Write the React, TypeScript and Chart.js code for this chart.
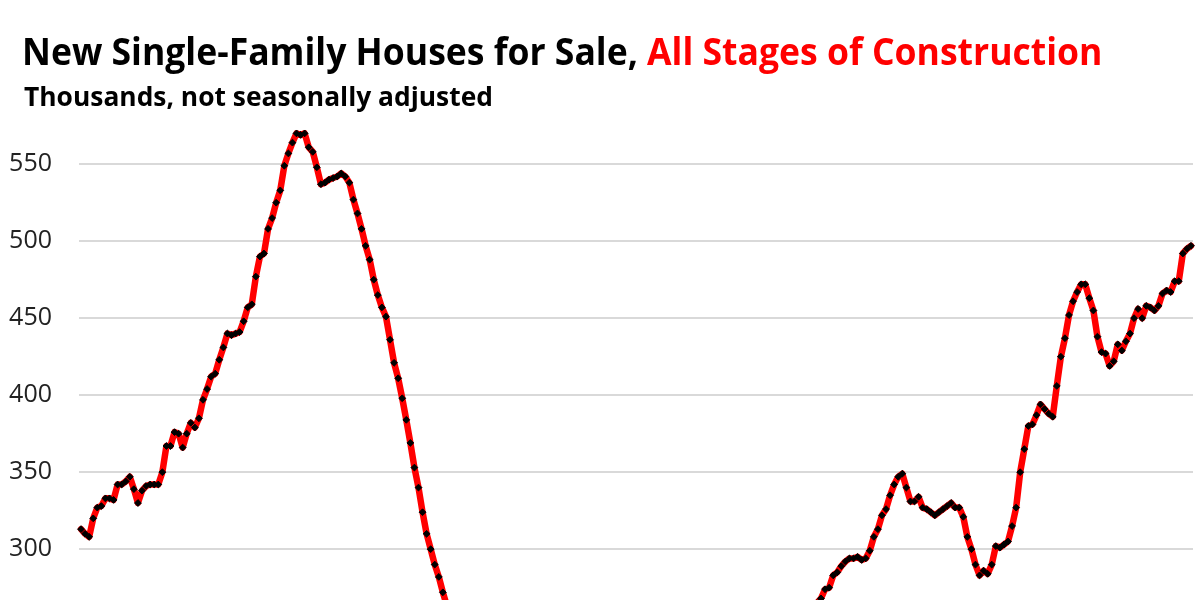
import React, { useEffect, useLayoutEffect, useRef } from 'react';
import { Chart, registerables } from 'chart.js';

Chart.register(...registerables);

// New single-family houses for sale (thousands, NSA), monthly from Jan 2002
const years = [2002, 2003, 2004, 2005, 2006, 2007, 2008, 2009, 2010, 2011, 2012, 2013, 2014, 2015, 2016, 2017, 2018, 2019, 2020, 2021, 2022, 2023, 2024];
const months = ['01', '02', '03', '04', '05', '06', '07', '08', '09', '10', '11', '12'];

const forSaleBoom = [
  313, 310, 308, 320, 327, 328, 333, 333, 332, 342,
  342, 344, 347, 339, 330, 338, 341, 342, 342, 342,
  350, 367, 367, 376, 375, 366, 375, 382, 379, 385,
  397, 404, 412, 414, 423, 431, 440, 439, 440, 441,
  448, 457, 459, 477, 490, 492, 508, 515, 525, 533,
  549, 557, 564, 570, 569, 570, 561, 558, 548, 537,
  538, 540, 541, 542, 544, 542, 538, 527, 518, 508,
  497, 488, 475, 465, 457, 451, 436, 421, 411, 398,
  384, 369, 353, 340, 324, 310, 300, 290, 282, 272,
];

const forSaleTrough = [
  263, 256, 249, 243, 237, 232,
  229, 228, 226, 221, 216, 212, 209, 205, 201, 197, 192, 188,
  185, 184, 182, 177, 172, 168, 165, 162, 158, 155, 151, 149,
  148, 148, 146, 144, 143, 142, 143, 145, 146, 147, 150, 152,
  155, 158, 160, 163, 166, 170, 174, 177, 180, 183, 185, 186,
  188, 191, 194, 198, 201, 204, 207, 210, 212, 213, 214, 214,
  216, 219, 222, 225, 228, 231, 232, 234, 234, 235, 236, 236,
  238, 241, 244, 247, 250, 252, 253, 255, 256, 257, 258, 259,
  262, 265,
];

const forSaleRecovery = [
  268, 274, 275, 283, 285, 289, 292, 294, 294, 295,
  293, 294, 299, 308, 313, 322, 326, 335, 342, 347,
  349, 340, 331, 331, 334, 327, 326, 324, 322, 324,
  326, 328, 330, 327, 327, 321, 308, 300, 290, 283,
  286, 284, 290, 302, 301, 303, 305, 315, 327, 350,
  365, 380, 381, 387, 394, 391, 388, 386, 406, 425,
  437, 452, 461, 467, 472, 472, 463, 455, 438, 428,
  427, 419, 422, 433, 429, 435, 440, 450, 456, 450,
  458, 457, 455, 458, 466, 468, 467, 474, 474, 492,
  495, 497,
];

const yTicks = [300, 350, 400, 450, 500, 550];

const titleBlack = 'New Single-Family Houses for Sale, ';
const titleRed = 'All Stages of Construction';
const subtitle = 'Thousands, not seasonally adjusted';

const values = [...forSaleBoom, ...forSaleTrough, ...forSaleRecovery];
const allMonths: string[] = [];
years.forEach((y) => months.forEach((m) => allMonths.push(`${y}-${m}`)));
const labels = allMonths.slice(0, values.length);

function useFitWidth(ref: React.RefObject<HTMLDivElement | null>, target: number) {
  useLayoutEffect(() => {
    const fit = () => {
      const el = ref.current;
      if (!el) return;
      el.style.transform = 'none';
      const w = el.offsetWidth;
      if (w > 0) el.style.transform = `scaleX(${target / w})`;
    };
    fit();
    if ((document as any).fonts && (document as any).fonts.ready) {
      (document as any).fonts.ready.then(fit);
    }
  }, [ref, target]);
}

export default function App() {
  const canvasRef = useRef<HTMLCanvasElement | null>(null);
  const titleRef = useRef<HTMLDivElement | null>(null);
  const subRef = useRef<HTMLDivElement | null>(null);

  useFitWidth(titleRef, 1080);
  useFitWidth(subRef, 469);

  useEffect(() => {
    if (!canvasRef.current) return;
    const chart = new Chart(canvasRef.current, {
      type: 'line',
      data: {
        labels,
        datasets: [
          {
            data: values,
            borderColor: '#FF0000',
            borderWidth: 6.5,
            borderJoinStyle: 'round',
            borderCapStyle: 'round',
            tension: 0,
            pointStyle: 'rectRot',
            pointRadius: 3.4,
            pointBackgroundColor: '#000000',
            pointBorderColor: '#000000',
            pointBorderWidth: 1,
          },
        ],
      },
      options: {
        animation: false,
        responsive: false,
        maintainAspectRatio: false,
        layout: { autoPadding: false, padding: { left: 0, right: 7, top: 120, bottom: 0 } },
        plugins: {
          legend: { display: false },
          tooltip: { enabled: false },
          title: { display: false },
        },
        scales: {
          x: { type: 'category', display: false, offset: true },
          y: {
            min: 267,
            max: 578.7,
            afterBuildTicks: (s: any) => {
              s.ticks = yTicks.map((v) => ({ value: v }));
            },
            afterFit: (s: any) => {
              s.width = 79;
              s.paddingTop = 0;
              s.paddingBottom = 0;
            },
            grid: { color: '#D9D9D9', lineWidth: 2, drawTicks: false },
            border: { display: false },
            ticks: {
              padding: 27,
              color: '#222222',
              font: { family: 'Open Sans', size: 25 },
            },
          },
        },
      },
    });
    return () => chart.destroy();
  }, []);

  return (
    <div
      style={{
        position: 'absolute',
        left: 0,
        top: 0,
        width: 1200,
        height: 600,
        overflow: 'hidden',
        background: '#ffffff',
      }}
    >
      <canvas
        ref={canvasRef}
        width={1200}
        height={600}
        style={{ position: 'absolute', left: 0, top: 0, width: 1200, height: 600 }}
      />
      <div
        ref={titleRef}
        style={{
          position: 'absolute',
          left: 22,
          top: 31,
          fontFamily: "'Open Sans', sans-serif",
          fontWeight: 700,
          fontSize: 38,
          lineHeight: '38px',
          whiteSpace: 'nowrap',
          transformOrigin: 'left top',
          color: '#000000',
        }}
      >
        {titleBlack}
        <span style={{ color: '#FF0000' }}>{titleRed}</span>
      </div>
      <div
        ref={subRef}
        style={{
          position: 'absolute',
          left: 24,
          top: 82,
          fontFamily: "'Open Sans', sans-serif",
          fontWeight: 700,
          fontSize: 27.5,
          lineHeight: '27.5px',
          whiteSpace: 'nowrap',
          transformOrigin: 'left top',
          color: '#000000',
        }}
      >
        {subtitle}
      </div>
    </div>
  );
}
